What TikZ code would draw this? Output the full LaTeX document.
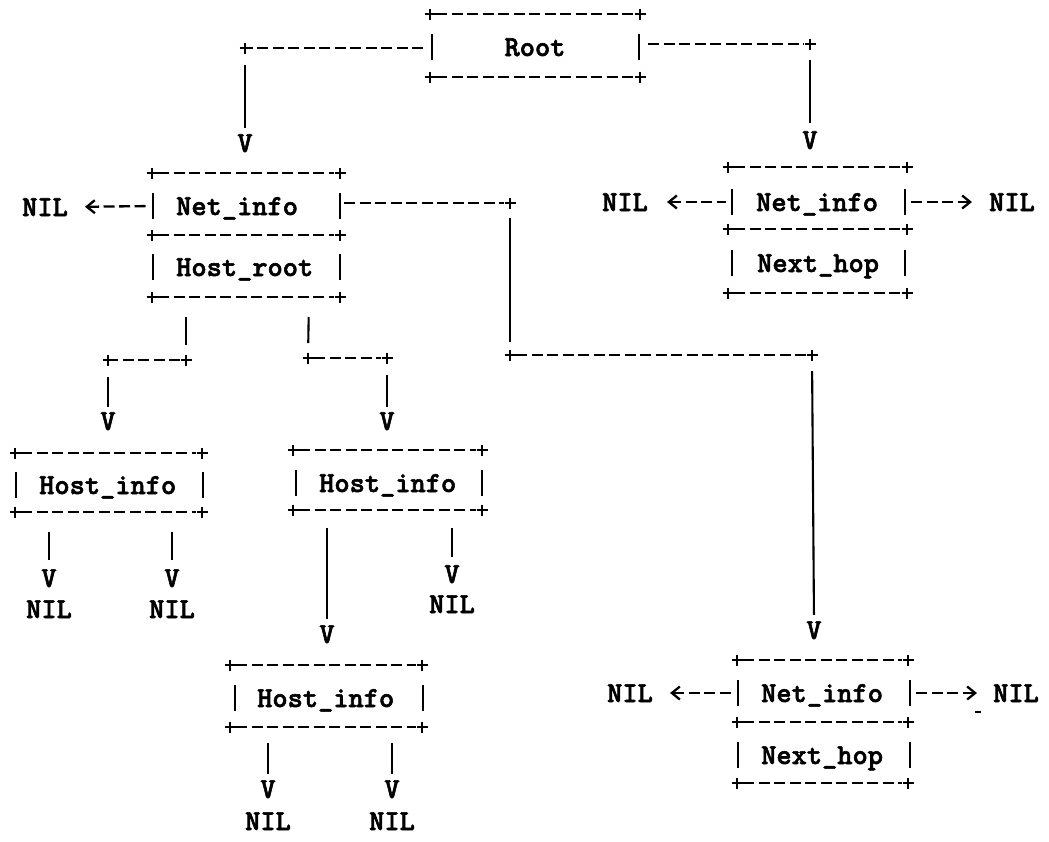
\documentclass[tikz,border=0pt]{standalone}
\usepackage{fontspec}
\newfontfamily\asciifont{lmmonolt10-bold.otf}[FakeBold=2]
\usetikzlibrary{arrows.meta}
\tikzset{
  every node/.style={font=\fontsize{29}{29}\selectfont\asciifont, inner sep=0pt, text height=18pt, text depth=0pt},
  dline/.style={line width=2.3pt, dash pattern=on 11pt off 4.5pt},
  sline/.style={line width=2.1pt},
  plus/.pic={\draw[line width=2.1pt, solid] (-5.5,0)--(5.5,0) (0,-5.5)--(0,5.5);},
  nilL/.style={dline, {Straight Barb[length=8pt,width=13pt,line width=2.3pt]}-},
  nilR/.style={dline, -{Straight Barb[length=8pt,width=13pt,line width=2.3pt]}},
  lbl/.style={anchor=west},
}
\newcommand\boxedge[3]{\draw[dline] ({#1+6},#3) -- ({#2-6},#3); \pic at (#1,#3) {plus}; \pic at (#2,#3) {plus};}
\newcommand\boxside[2]{\draw[sline] (#1,{#2-13}) -- (#1,{#2+13});}
\begin{document}
\begin{tikzpicture}[x=1pt,y=-1pt]
\useasboundingbox (0,0) rectangle (1049,841);

% ---------- Root box
\boxedge{430}{640}{14}\boxedge{430}{640}{77}
\boxside{432}{47}\boxside{639}{47}
\node (root) at (535,47) {Root};
\coordinate (rootW) at (432,48);
\coordinate (rootE) at (639,44);

% ---------- Net_info / Host_root box (left)
\boxedge{152}{340}{173}\boxedge{152}{340}{235}\boxedge{152}{340}{297}
\boxside{153}{206}\boxside{340}{206}\boxside{153}{267}\boxside{340}{267}
\node[lbl] (net1) at (176,206) {Net\_info};
\node[lbl] (hroot) at (176,267) {Host\_root};
\coordinate (n1W) at (153,206);
\coordinate (n1E) at (340,203);
\coordinate (hrL) at (186,297);
\coordinate (hrM) at (309,297);

% ---------- Net_info / Next_hop box (top right)
\boxedge{728}{907}{167}\boxedge{728}{907}{229}\boxedge{728}{907}{293}
\boxside{732}{202}\boxside{905}{202}\boxside{732}{263}\boxside{905}{263}
\node[lbl] (net2) at (756,202) {Net\_info};
\node[lbl] (hop2) at (757,263) {Next\_hop};
\coordinate (n2W) at (732,202);
\coordinate (n2E) at (905,202);

% ---------- Net_info / Next_hop box (bottom right)
\boxedge{737}{908}{660}\boxedge{737}{908}{722}\boxedge{737}{908}{783}
\boxside{738}{693}\boxside{910}{693}\boxside{738}{755}\boxside{910}{755}
\node[lbl] (net3) at (761,693) {Net\_info};
\node[lbl] (hop3) at (761,755) {Next\_hop};
\coordinate (n3W) at (738,693);
\coordinate (n3E) at (910,693);

% ---------- Host_info boxes
\boxedge{15}{202}{453}\boxedge{15}{202}{512}
\boxside{16}{485}\boxside{203}{485}
\node[lbl] (hA) at (39,485) {Host\_info};
\coordinate (aL) at (49,512);
\coordinate (aR) at (172,512);

\boxedge{293}{482}{450}\boxedge{293}{482}{510}
\boxside{296}{483}\boxside{482}{483}
\node[lbl] (hB) at (319,483) {Host\_info};
\coordinate (bL) at (327,510);
\coordinate (bR) at (452,510);

\boxedge{230}{422}{665}\boxedge{230}{422}{727}
\boxside{235}{698}\boxside{423}{698}
\node[lbl] (hC) at (257,698) {Host\_info};
\coordinate (cL) at (268,727);
\coordinate (cR) at (392,727);

% ---------- junctions
\coordinate (rL) at (245,48);
\coordinate (rR) at (810,44);
\coordinate (j1) at (510,203);
\coordinate (j2) at (510,355);
\coordinate (j3) at (812,355);
\coordinate (k1) at (186,360);
\coordinate (k2) at (108,360);
\coordinate (k3) at (308,358);
\coordinate (k4) at (387,358);
\foreach \c in {rL,rR,j1,j2,j3,k1,k2,k3,k4} \pic at (\c) {plus};

% ---------- V heads and NIL nodes
\node (v1) at (245,143) {V};
\node (v2) at (810,140) {V};
\node (v3) at (814,630) {V};
\node (v4) at (108,421) {V};
\node (v5) at (387,421) {V};
\node (v6) at (49,578) {V};
\node (v7) at (172,578) {V};
\node (v8) at (327,634) {V};
\node (v9) at (452,574) {V};
\node (v10) at (268,789) {V};
\node (v11) at (392,789) {V};

\node (nil1) at (45,207) {NIL};
\node (nil2) at (49,609) {NIL};
\node (nil3) at (172,609) {NIL};
\node (nil4) at (452,604) {NIL};
\node (nil5) at (268,821) {NIL};
\node (nil6) at (392,821) {NIL};
\node (nil7) at (625,202) {NIL};
\node (nil8) at (1012,202) {NIL};
\node (nil9) at (630,693) {NIL};
\node (nil10) at (1016,693) {NIL};

% ---------- connectors
\draw[dline, shorten <=9pt, shorten >=6pt] (rootW) -- (rL);
\draw[sline, shorten <=17pt, shorten >=6pt] (rL) -- (v1.north);
\draw[dline, shorten <=9pt, shorten >=6pt] (rootE) -- (rR);
\draw[sline, shorten <=16pt, shorten >=8pt] (rR) -- (v2.north);

\draw[nilL, shorten <=17pt, shorten >=7pt] (nil1.east) -- (n1W);
\draw[dline, shorten <=4pt, shorten >=6pt] (n1E) -- (j1);
\draw[sline, shorten <=15pt, shorten >=13pt] (j1) -- (j2);
\draw[dline, shorten <=6pt, shorten >=6pt] (j2) -- (j3);
\draw[sline, shorten <=16pt, shorten >=6pt] (j3) -- (v3.north);

\draw[sline, shorten <=20pt, shorten >=15pt] (hrL) -- (k1);
\draw[dline, shorten <=6pt, shorten >=6pt] (k1) -- (k2);
\draw[sline, shorten <=17pt, shorten >=5pt] (k2) -- (v4.north);
\draw[sline, shorten <=20pt, shorten >=15pt] (hrM) -- (k3);
\draw[dline, shorten <=6pt, shorten >=6pt] (k3) -- (k4);
\draw[sline, shorten <=17pt, shorten >=5pt] (k4) -- (v5.north);

\draw[sline, shorten <=20pt, shorten >=9pt] (aL) -- (v6.north);
\draw[sline, shorten <=20pt, shorten >=9pt] (aR) -- (v7.north);
\draw[sline, shorten <=18pt, shorten >=6pt] (bL) -- (v8.north);
\draw[sline, shorten <=18pt, shorten >=8pt] (bR) -- (v9.north);
\draw[sline, shorten <=16pt, shorten >=6pt] (cL) -- (v10.north);
\draw[sline, shorten <=16pt, shorten >=6pt] (cR) -- (v11.north);

\draw[nilL, shorten <=19pt, shorten >=6pt] (nil7.east) -- (n2W);
\draw[nilR, shorten <=6pt, shorten >=17pt] (n2E) -- (nil8.west);
\draw[nilL, shorten <=17pt, shorten >=6pt] (nil9.east) -- (n3W);
\draw[nilR, shorten <=6pt, shorten >=16pt] (n3E) -- (nil10.west);
\draw[line width=2pt] (975,712) -- (981,712);
\end{tikzpicture}
\end{document}
